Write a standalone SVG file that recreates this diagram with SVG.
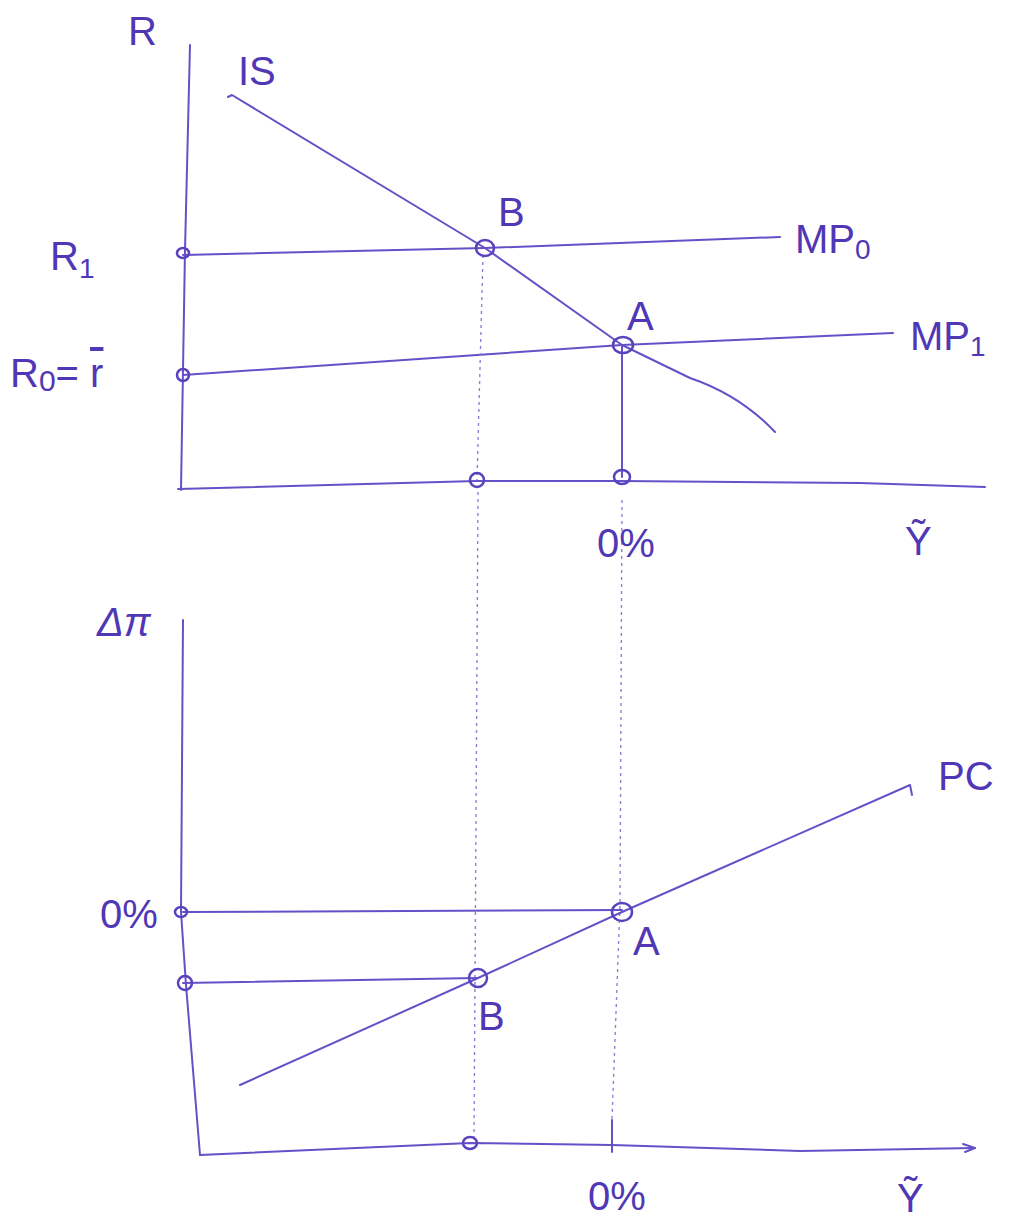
<svg xmlns="http://www.w3.org/2000/svg" width="1015" height="1227" viewBox="0 0 1015 1227">
<style>
.ln{fill:none;stroke:#6650c8;stroke-width:2;stroke-linecap:round;stroke-linejoin:round}
.dot{fill:none;stroke:#8e7fd6;stroke-width:1.4;stroke-dasharray:3 4}
.pt{fill:none;stroke:#5a42bd;stroke-width:2.5}
.t{font-family:"Liberation Sans",Arial,sans-serif;fill:#4f37b5;font-size:40px}
</style>
<rect width="1015" height="1227" fill="#ffffff"/>
<g id="connectors">
  <!-- top panel axes -->
  <path class="ln" d="M190,45 L185,250 L181,490"/>
  <path class="ln" d="M178,489 L477,481 L622,481 L860,483 L985,487"/>
  <!-- IS curve -->
  <path class="ln" d="M228,97 L232,95 L485,248 L622,345 L690,378 Q740,395 775,432"/>
  <!-- MP lines -->
  <path class="ln" d="M183,255 L485,248 L780,237"/>
  <path class="ln" d="M183,375 L622,345 L893,333"/>
  <!-- verticals -->
  <path class="ln" d="M622,345 L622,477"/>
  <path class="dot" d="M483,255 L477,480"/>
  <path class="dot" d="M478,492 L474,1143"/>
  <path class="dot" d="M622,500 L620,905 L612,1120"/>
  <path class="ln" d="M612,1120 L612,1152"/>
  <!-- bottom panel axes -->
  <path class="ln" d="M183,620 L181,912 L186,985 L200,1155"/>
  <path class="ln" d="M200,1155 L470,1143 L612,1145 L800,1151 L975,1148"/>
  <path class="ln" d="M963,1144 L975,1148 L965,1152"/>
  <!-- PC -->
  <path class="ln" d="M240,1085 L478,978 L622,912 L910,785 L912,795"/>
  <!-- horizontals -->
  <path class="ln" d="M183,912 L622,910"/>
  <path class="ln" d="M183,983 L478,978"/>
</g>
<g id="point-R1"><ellipse class="pt" cx="183" cy="253" rx="6" ry="5"/></g>
<g id="point-R0"><ellipse class="pt" cx="183" cy="375" rx="6" ry="6"/></g>
<g id="point-B-top"><ellipse class="pt" cx="485" cy="248" rx="9" ry="8"/></g>
<g id="point-A-top"><ellipse class="pt" cx="623" cy="345" rx="10" ry="8"/></g>
<g id="point-B-axis"><ellipse class="pt" cx="477" cy="480" rx="7" ry="7"/></g>
<g id="point-A-axis"><ellipse class="pt" cx="622" cy="477" rx="8" ry="7"/></g>
<g id="point-0pct-left"><ellipse class="pt" cx="181" cy="912" rx="6" ry="5"/></g>
<g id="point-B-left"><ellipse class="pt" cx="185" cy="983" rx="7" ry="7"/></g>
<g id="point-A-bottom"><ellipse class="pt" cx="622" cy="912" rx="10" ry="9"/></g>
<g id="point-B-bottom"><ellipse class="pt" cx="478" cy="978" rx="9" ry="9"/></g>
<g id="point-B-axis2"><ellipse class="pt" cx="470" cy="1143" rx="7" ry="6"/></g>
<g id="labels">
  <text class="t" x="128" y="45">R</text>
  <text class="t" x="238" y="85" font-family="Liberation Serif" font-size="42">IS</text>
  <text class="t" x="498" y="226">B</text>
  <text class="t" x="627" y="330">A</text>
  <text class="t" x="795" y="253">MP<tspan font-size="28" dy="6">0</tspan></text>
  <text class="t" x="910" y="350">MP<tspan font-size="28" dy="6">1</tspan></text>
  <text class="t" x="50" y="270">R<tspan font-size="28" dy="8">1</tspan></text>
  <text class="t" x="10" y="387">R<tspan font-size="30" dy="4">0</tspan><tspan dy="-4">= </tspan><tspan text-decoration="overline">r</tspan></text>
  <text class="t" x="597" y="557">0%</text>
  <text class="t" x="905" y="555">Ỹ</text>
  <text class="t" x="97" y="636" font-size="34" font-style="italic">Δπ</text>
  <text class="t" x="938" y="790">PC</text>
  <text class="t" x="100" y="928">0%</text>
  <text class="t" x="633" y="955">A</text>
  <text class="t" x="478" y="1030">B</text>
  <text class="t" x="588" y="1210">0%</text>
  <text class="t" x="897" y="1212" font-size="36">Ỹ</text>
</g>
</svg>
